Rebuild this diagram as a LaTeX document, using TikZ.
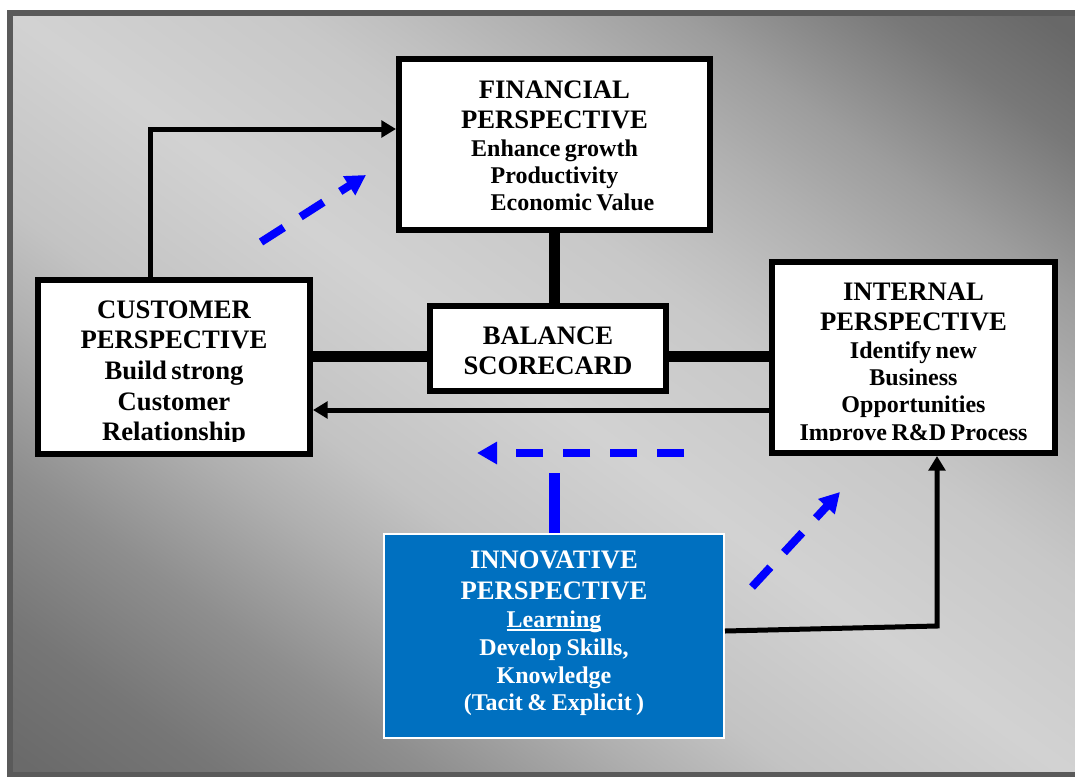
\documentclass[tikz,border=0pt]{standalone}
\usepackage{fontspec}
\setmainfont{Liberation Serif}
\usepackage{tikz}
\usetikzlibrary{arrows.meta, calc}
\definecolor{innoblue}{RGB}{0,112,192}
\definecolor{bgframe}{RGB}{90,90,90}
\pgfdeclareverticalshading{bgfade}{100bp}{rgb(0bp)=(0.392,0.392,0.392); rgb(16bp)=(0.416,0.416,0.416); rgb(22bp)=(0.463,0.463,0.463); rgb(29bp)=(0.557,0.557,0.557); rgb(36bp)=(0.686,0.686,0.686); rgb(41bp)=(0.765,0.765,0.765); rgb(50bp)=(0.824,0.824,0.824); rgb(59bp)=(0.784,0.784,0.784); rgb(62bp)=(0.753,0.753,0.753); rgb(67bp)=(0.690,0.690,0.690); rgb(72bp)=(0.616,0.616,0.616); rgb(79bp)=(0.471,0.471,0.471); rgb(84bp)=(0.408,0.408,0.408); rgb(100bp)=(0.392,0.392,0.392)}
\tikzstyle{box} = [draw=black, line width=4.5pt, fill=white, inner sep=0pt]
\tikzstyle{textblock} = [anchor=north, inner sep=0pt, align=center, text width=240pt, font=\bfseries]
\tikzstyle{link} = [line width=8.25pt]
\tikzstyle{arrow} = [line width=3.75pt, -{Triangle[length=11pt,width=12.5pt]}]
\tikzstyle{bluearrow} = [blue, line width=6pt, dash pattern=on 20.25pt off 15pt, -{Triangle[length=15pt,width=16pt]}]
\newcommand{\undr}[1]{\leavevmode\setbox0=\hbox{#1}\rlap{\rule[-3pt]{\wd0}{1.5pt}}\box0}

\begin{document}
\begin{tikzpicture}[x=0.75pt, y=-0.75pt]
    % Fondo
    \useasboundingbox (0,0) rectangle (1075,776);
    \begin{scope}
        \clip (0,0) rectangle (1075,776);
        \begin{scope}[transform canvas={xscale=1.3902}]
            \shade[shading=bgfade, shading angle=-45] (6.47,12) rectangle (780.47,786);
        \end{scope}
        \draw[bgframe, line width=4.5pt] (9.5,12.5) rectangle (1085,774.5);
    \end{scope}

    % Cajas
    \node[box, minimum width=233.25pt, minimum height=128.25pt] (fin) at (554.5,144.5) {};
    \node[box, minimum width=204pt, minimum height=130.5pt] (cust) at (174,367) {};
    \node[box, minimum width=212.25pt, minimum height=143.25pt] (int) at (913.5,357.5) {};
    \node[box, minimum width=177pt, minimum height=63.75pt] (bal) at (548,348.5) {};
    \node[draw=white, line width=1.5pt, fill=innoblue, inner sep=0pt, minimum width=255pt, minimum height=153pt] (innov) at (554,636) {};

    % Textos
    \node[textblock] (fintext) at (554.5,80.4) {%
        {\fontsize{20}{23}\selectfont FINANCIAL\\PERSPECTIVE\par}
        {\fontsize{18}{20.5}\selectfont Enhance growth\\Productivity\\\hspace*{27pt}Economic Value\par}};
    \node[textblock] (custtext) at (174,300.4) {%
        {\fontsize{20}{23}\selectfont CUSTOMER\\PERSPECTIVE\\Build strong\\Customer\\Relationship\par}};
    \node[textblock] (inttext) at (913.5,282.4) {%
        {\fontsize{20}{23}\selectfont INTERNAL\\PERSPECTIVE\par}
        {\fontsize{18}{20.5}\selectfont Identify new\\Business\\Opportunities\\Improve R\&D Process\par}};
    \node[textblock] (baltext) at (548,326.4) {%
        {\fontsize{20}{23}\selectfont BALANCE\\SCORECARD\par}};
    \node[textblock, text=white] (innovtext) at (554,550.4) {%
        {\fontsize{20}{23}\selectfont INNOVATIVE\\PERSPECTIVE\par}
        {\fontsize{18}{21}\selectfont \undr{Learning}\\Develop Skills,\\Knowledge\\(Tacit \& Explicit )\par}};

    % Texto cortado abajo
    \fill[white] (41,441.5) rectangle (307,451);
    \fill[white] (775,441) rectangle (1052,450);

    % Conectores
    \coordinate (midrow) at (548,356);
    \coordinate (lowrow) at (548,410);
    \coordinate (cbend) at (150,129);
    \coordinate (ibend) at (937,626);
    \coordinate (bartop) at (554,473);
    \draw[link] (fin.south) -- (fin.south |- bal.north);
    \draw[link] (cust.east |- midrow) -- (bal.west |- midrow);
    \draw[link] (bal.east |- midrow) -- (int.west |- midrow);
    \draw[arrow] (int.west |- lowrow) -- (cust.east |- lowrow);
    \draw[arrow] (cbend |- cust.north) -- (cbend) -- (cbend -| fin.west);
    \draw[arrow] ([yshift=3.75pt]innov.east) -- (ibend) -- (ibend |- int.south);
    \draw[link, blue] (innov.north) -- (innov.north |- bartop);

    % Flechas azules
    \coordinate (b1s) at (261,242);
    \coordinate (b1e) at (366,175);
    \coordinate (b2s) at (752,587);
    \coordinate (b2e) at (840,492);
    \coordinate (b3s) at (684,453);
    \coordinate (b3e) at (477,453);
    \draw[bluearrow] (b1s) -- (b1e);
    \draw[bluearrow] (b2s) -- (b2e);
    \draw[bluearrow] (b3s) -- (b3e);
\end{tikzpicture}
\end{document}
